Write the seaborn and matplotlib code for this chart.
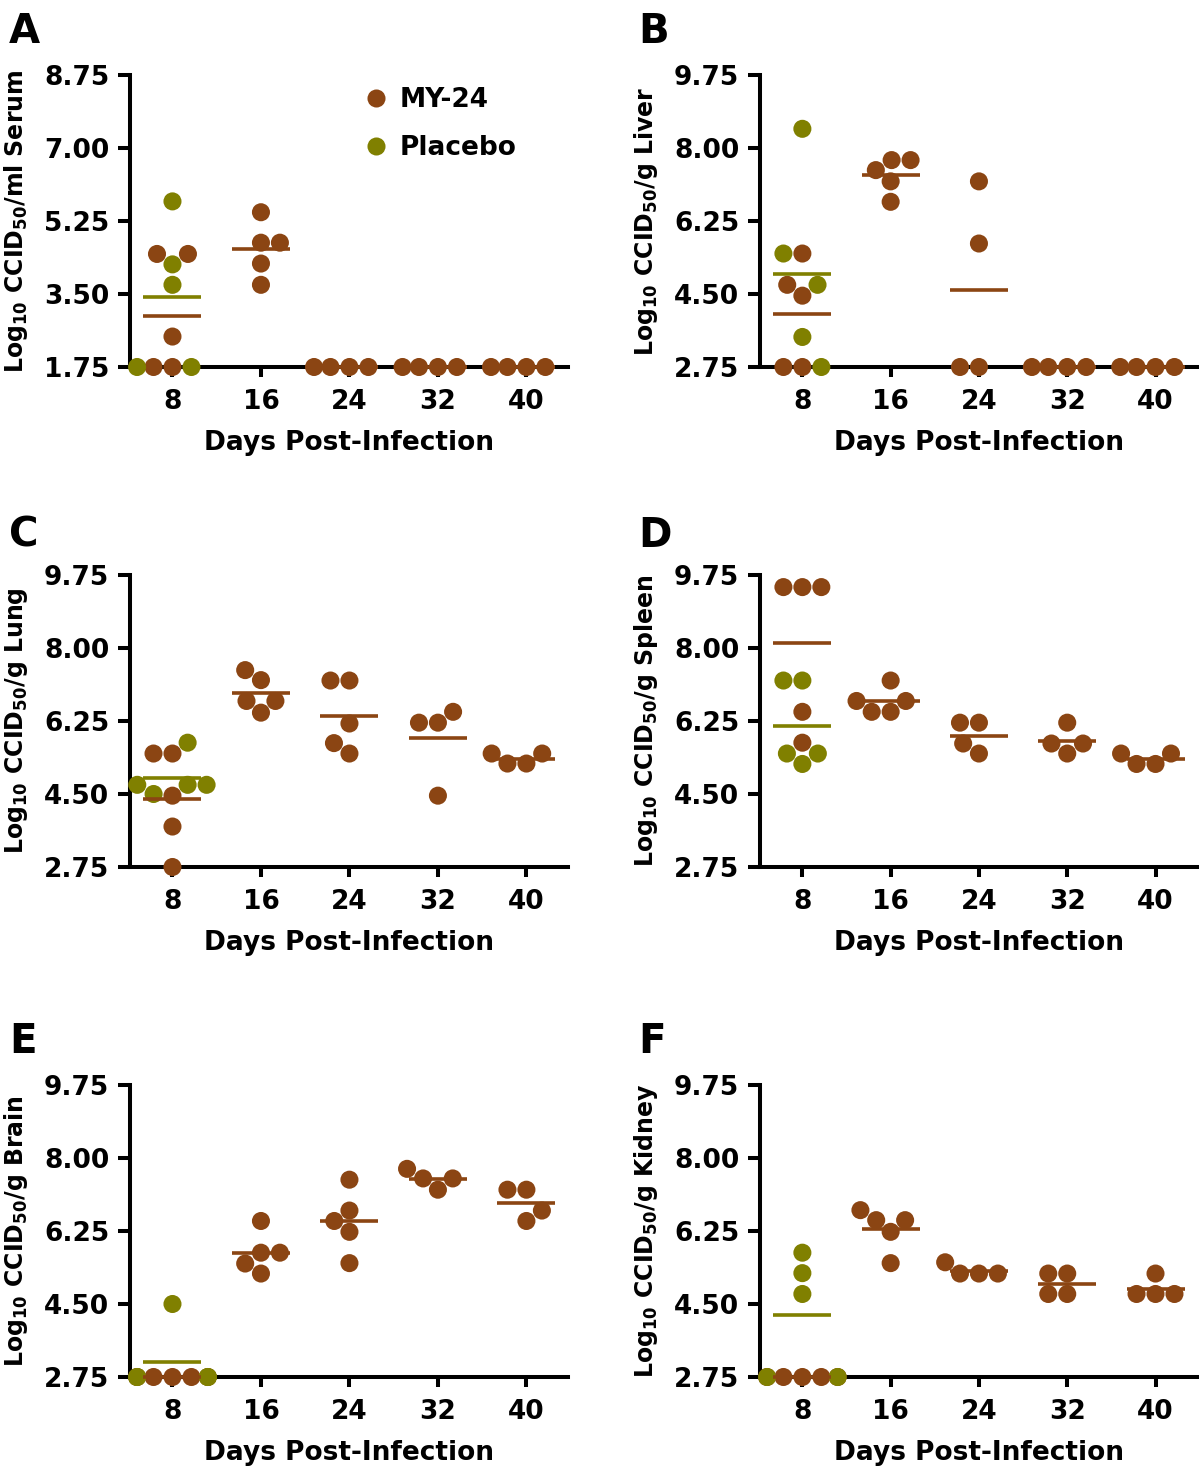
import warnings
import pandas as pd
import seaborn as sns
import matplotlib.pyplot as plt
from matplotlib.lines import Line2D

warnings.filterwarnings("ignore")

# ------------------------------------------------------------
# data: log10 CCID50 per mouse, one list per day
# ------------------------------------------------------------
days = [8, 16, 24, 32, 40]
groups = ["MY-24", "Placebo"]
colors = {"MY-24": "#8B4513", "Placebo": "#808000"}

serum_my24 = [[4.46, 4.46, 2.48, 1.75, 1.75], [5.46, 4.73, 4.73, 4.23, 3.72],
              [1.75, 1.75, 1.75, 1.75], [1.75, 1.75, 1.75, 1.75], [1.75, 1.75, 1.75, 1.75]]
serum_placebo = [[5.72, 4.21, 3.72, 1.75, 1.75], [], [], [], []]

liver_my24 = [[5.47, 4.72, 4.46, 2.75, 2.75], [7.71, 7.71, 7.47, 7.20, 6.71],
              [7.20, 5.71, 2.75, 2.75], [2.75, 2.75, 2.75, 2.75], [2.75, 2.75, 2.75, 2.75]]
liver_placebo = [[8.46, 5.47, 4.72, 3.47, 2.75], [], [], [], []]

lung_my24 = [[5.47, 5.47, 4.46, 3.72, 2.75], [7.47, 7.23, 6.73, 6.73, 6.45],
             [7.22, 7.22, 6.19, 5.72, 5.47], [6.47, 6.21, 6.21, 4.46], [5.47, 5.47, 5.23, 5.23]]
lung_placebo = [[5.73, 4.72, 4.72, 4.72, 4.50], [], [], [], []]

spleen_my24 = [[9.46, 9.46, 9.46, 6.47, 5.73], [7.22, 6.73, 6.73, 6.47, 6.47],
               [6.21, 6.21, 5.71, 5.47], [6.21, 5.71, 5.71, 5.47], [5.47, 5.47, 5.22, 5.22]]
spleen_placebo = [[7.22, 7.22, 5.47, 5.47, 5.22], [], [], [], []]

brain_my24 = [[2.75, 2.75, 2.75, 2.75, 2.75], [6.49, 5.73, 5.73, 5.47, 5.23],
              [7.48, 6.74, 6.49, 6.23, 5.48], [7.74, 7.51, 7.51, 7.24], [7.24, 7.24, 6.74, 6.49]]
brain_placebo = [[4.50, 2.75, 2.75, 2.75, 2.75], [], [], [], []]

kidney_my24 = [[2.75, 2.75, 2.75, 2.75, 2.75], [6.75, 6.51, 6.51, 6.23, 5.48],
               [5.50, 5.23, 5.23, 5.23], [5.23, 5.23, 4.74, 4.74], [5.23, 4.74, 4.74, 4.74]]
kidney_placebo = [[5.73, 5.24, 4.74, 2.75, 2.75], [], [], [], []]

serum_ticks = [1.75, 3.50, 5.25, 7.00, 8.75]
organ_ticks = [2.75, 4.50, 6.25, 8.00, 9.75]

panels = [
    ("A", "Log$_{10}$ CCID$_{50}$/ml Serum", serum_my24, serum_placebo, serum_ticks),
    ("B", "Log$_{10}$ CCID$_{50}$/g Liver", liver_my24, liver_placebo, organ_ticks),
    ("C", "Log$_{10}$ CCID$_{50}$/g Lung", lung_my24, lung_placebo, organ_ticks),
    ("D", "Log$_{10}$ CCID$_{50}$/g Spleen", spleen_my24, spleen_placebo, organ_ticks),
    ("E", "Log$_{10}$ CCID$_{50}$/g Brain", brain_my24, brain_placebo, organ_ticks),
    ("F", "Log$_{10}$ CCID$_{50}$/g Kidney", kidney_my24, kidney_placebo, organ_ticks),
]


def long_table(my24, placebo):
    rows = []
    for grp, series in (("MY-24", my24), ("Placebo", placebo)):
        for d, vals in zip(days, series):
            for v in vals:
                rows.append({"day": d, "group": grp, "value": v})
    return pd.DataFrame(rows)


# ------------------------------------------------------------
# style
# ------------------------------------------------------------
sns.set_style("ticks")
plt.rcParams["font.family"] = ["DejaVu Sans"]
plt.rcParams["font.weight"] = "bold"
plt.rcParams["axes.labelweight"] = "bold"
plt.rcParams["mathtext.fontset"] = "dejavusans"
plt.rcParams["mathtext.default"] = "bf"
for key in ("text.color", "axes.labelcolor", "axes.edgecolor", "xtick.color", "ytick.color"):
    plt.rcParams[key] = "black"

W, H = 1200, 1469
fig = plt.figure(figsize=(W / 100, H / 100), dpi=100)

col_x = [(130, 568), (760, 1197)]
row_y = [(75, 367), (575, 867), (1085, 1377)]
letter_top = [12, 516, 1022]

axes = []
for i, (letter, ylabel, my24, placebo, yticks) in enumerate(panels):
    r, c = divmod(i, 2)
    x0, x1 = col_x[c]
    y0, y1 = row_y[r]
    ax = fig.add_axes([x0 / W, 1 - y1 / H, (x1 - x0) / W, (y1 - y0) / H])
    axes.append(ax)

    df = long_table(my24, placebo)

    sns.swarmplot(data=df, x="day", y="value", hue="group", hue_order=groups,
                  order=days, palette=colors, size=13, linewidth=0,
                  dodge=False, legend=False, clip_on=False, ax=ax, zorder=3)
    sns.pointplot(data=df, x="day", y="value", hue="group", hue_order=groups,
                  order=days, palette=colors, estimator="mean", errorbar=None,
                  markers="_", linestyle="none", markersize=42, markeredgewidth=2.6,
                  dodge=False, legend=False, ax=ax, zorder=4, clip_on=False)

    ax.set_xlim(-0.48, 4.47)
    ax.set_ylim(yticks[0], yticks[-1])
    ax.set_yticks(yticks)
    ax.set_yticklabels([f"{t:.2f}" for t in yticks])
    ax.set_xticks(range(len(days)))
    ax.set_xticklabels([str(d) for d in days])

    sns.despine(ax=ax)
    for side in ("left", "bottom"):
        ax.spines[side].set_linewidth(2.9)
        ax.spines[side].set_color("black")
        ax.spines[side].set_zorder(2)
    ax.tick_params(axis="both", labelsize=19, width=2.9, colors="black")
    ax.tick_params(axis="y", length=9, pad=6)
    ax.tick_params(axis="x", length=7, pad=9)
    for lab in ax.get_xticklabels() + ax.get_yticklabels():
        lab.set_fontweight("bold")

    ax.set_xlabel("Days Post-Infection", fontsize=19, fontweight="bold", labelpad=11)
    ax.set_ylabel(ylabel, fontsize=17, fontweight="bold")
    ax.yaxis.set_label_coords(-0.228, 0.5)

    fig.text((9 if c == 0 else 638) / W, 1 - letter_top[r] / H, letter,
             fontsize=29, fontweight="bold", ha="left", va="top")

# legend in panel A
handles = [Line2D([], [], marker="o", linestyle="none", markersize=13,
                  markerfacecolor=colors[g], markeredgewidth=0) for g in groups]
axes[0].legend(handles, groups, loc="upper left", frameon=False,
               bbox_to_anchor=(363 / W, 1 - 87 / H), bbox_transform=fig.transFigure,
               prop={"size": 19, "weight": "bold"}, handlelength=1.0,
               handletextpad=0.4, labelspacing=0.85, borderpad=0, borderaxespad=0)

fig.savefig("out.png", dpi=100)
